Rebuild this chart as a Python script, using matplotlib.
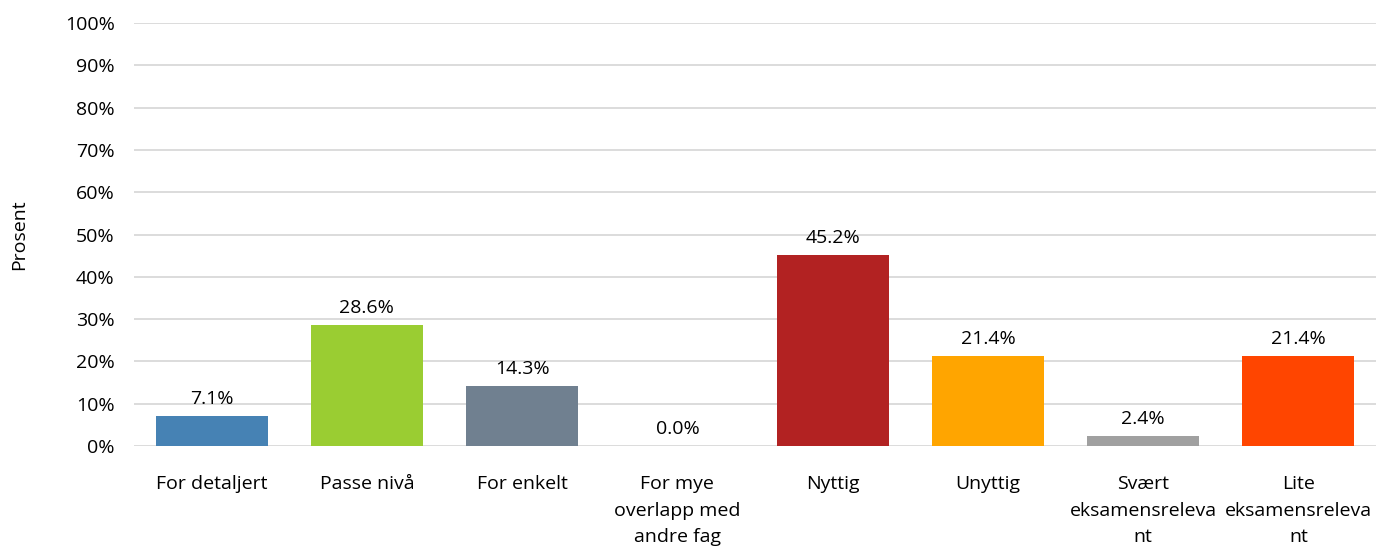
import numpy as np
import matplotlib.pyplot as plt

categories = ["For detaljert", "Passe nivå", "For enkelt", "For mye\noverlapp med\nandre fag",
              "Nyttig", "Unyttig", "Svært\neksamensreleva\nnt", "Lite\neksamensreleva\nnt"]
values = [7.1, 28.6, 14.3, 0.0, 45.2, 21.4, 2.4, 21.4]
colors = ["#4682B4", "#9ACD32", "#708090", "#D3D3D3", "#B22222", "#FFA500", "#A0A0A0", "#FF4500"]

plt.rcParams['font.family'] = ['Open Sans', 'DejaVu Sans']
fs = 14

fig = plt.figure(figsize=(13.76, 5.52), dpi=100)
ax = fig.add_axes([0.0974, 0.192, 0.9026, 0.766])

x = np.arange(len(categories))
ax.bar(x, values, width=0.72, color=colors, zorder=3)
for xi, v in zip(x, values):
    ax.text(xi, v + 1.8, f"{v:.1f}%", ha='center', va='bottom', fontsize=fs, color='#000000')

ax.set_xlim(-0.5, len(categories) - 0.5)
ax.set_ylim(0, 100)
ax.set_yticks(np.arange(0, 101, 10))
ax.set_yticklabels([f"{t}%" for t in range(0, 101, 10)], fontsize=fs)
ax.set_xticks(x)
ax.set_xticklabels(categories, fontsize=fs, linespacing=1.6, va='top')
ax.tick_params(axis='both', length=0)
ax.tick_params(axis='y', pad=14)
ax.tick_params(axis='x', pad=21)
ax.yaxis.grid(True, color='#D9D9D9', linewidth=1.3, zorder=0)
for s in ax.spines.values():
    s.set_visible(False)
ax.set_ylabel("Prosent", fontsize=fs, labelpad=26)

fig.savefig("out.png", dpi=100)
